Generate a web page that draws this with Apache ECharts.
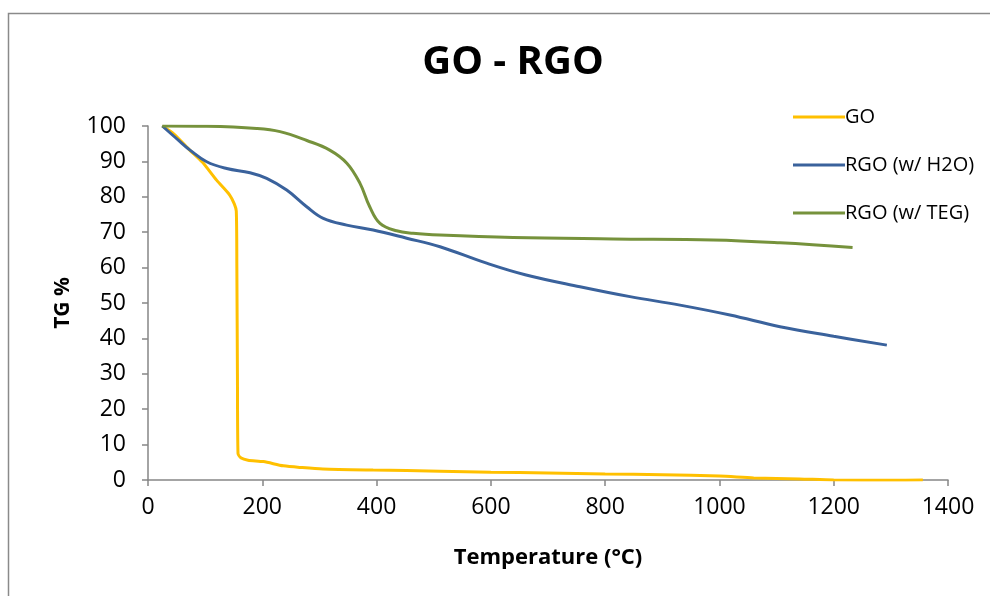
<!DOCTYPE html>
<html>
<head>
<meta charset="utf-8">
<script src="https://cdn.jsdelivr.net/npm/echarts@6/dist/echarts.min.js"></script>
<style>
  html, body { margin: 0; padding: 0; background: #fff; }
  #chart { width: 990px; height: 596px; }
</style>
</head>
<body>
<div id="chart"></div>
<script>
// Thermogravimetric curves: [temperature °C, TG %]
const seriesNames = ['GO', 'RGO (w/ H2O)', 'RGO (w/ TEG)'];

const goData = [
  [25, 100], [45, 97.8], [73, 93.2], [95, 89.8], [120, 84.7], [143, 80.5],
  [151, 78], [154.5, 76], [155.5, 60], [156.5, 30], [157.5, 7.5], [163, 6.2],
  [175, 5.6], [202, 5.2], [237, 4.0], [270, 3.5], [306, 3.1], [394, 2.8],
  [511, 2.5], [600, 2.2], [700, 2.0], [800, 1.7], [900, 1.5], [1000, 1.1],
  [1060, 0.6], [1140, 0.3], [1200, 0], [1300, -0.1], [1356, 0]
];

const rgoH2OData = [
  [25, 100], [56, 95.6], [73.5, 93.2], [102.7, 89.9], [137.7, 88], [178.5, 86.8],
  [207.7, 85.2], [242.7, 81.9], [277.7, 77.2], [306.8, 73.9], [347.7, 72.0],
  [394, 70.6], [452.7, 68.3], [511, 65.9], [590, 61.4], [660, 58], [756, 54.6],
  [843.5, 51.8], [931, 49.4], [1018.5, 46.6], [1106, 43.3], [1200, 40.6], [1293, 38.1]
];

const rgoTEGData = [
  [25, 100], [103, 99.9], [190, 99.3], [231, 98.4], [278, 95.9], [318, 93.2],
  [348, 89.5], [371, 83.8], [388, 77.2], [406, 72.5], [435, 70.4], [464, 69.7],
  [511, 69.2], [639, 68.5], [814, 68.1], [989, 67.8], [1106, 67.0], [1233, 65.7]
];

const xTicks = { min: 0, max: 1400, interval: 200 };
const yTicks = { min: 0, max: 100, interval: 10 };

const colors = ['#FFC000', '#3A629C', '#76923C'];
const axisGray = '#868686';
const font = '"Open Sans", "Liberation Sans", sans-serif';

const chart = echarts.init(document.getElementById('chart'), null, { renderer: 'canvas' });

function lineSeries(name, data, color, smooth) {
  return {
    name: name,
    type: 'line',
    data: data,
    showSymbol: false,
    symbol: 'none',
    smooth: smooth,
    lineStyle: { color: color, width: 3 },
    itemStyle: { color: color },
    animation: false
  };
}

// One legend block per entry so each row sits at its own height
const legendTops = [102, 150, 198];
const legends = seriesNames.map(function (name, i) {
  return {
    orient: 'vertical',
    left: 788,
    top: legendTops[i],
    itemWidth: 52,
    itemHeight: 3,
    icon: 'rect',
    data: [name],
    textStyle: { fontFamily: font, fontSize: 20, color: '#000', lineHeight: 20, padding: [0, 0, 0, -5] }
  };
});

chart.setOption({
  animation: false,
  backgroundColor: '#ffffff',
  graphic: [{
    type: 'rect',
    shape: { x: 8.5, y: 13.5, width: 1000, height: 600 },
    style: { fill: 'none', stroke: '#8a8a8a', lineWidth: 1.5 },
    silent: true
  }],
  title: {
    text: 'GO - RGO',
    left: 508,
    top: 38,
    textAlign: 'center',
    textStyle: { fontFamily: font, fontSize: 40, fontWeight: 'bold', color: '#000' }
  },
  legend: legends,
  grid: { left: 148, right: 42, top: 126, bottom: 116, containLabel: false },
  xAxis: {
    type: 'value',
    min: xTicks.min,
    max: xTicks.max,
    interval: xTicks.interval,
    name: 'Temperature (\u00B0C)',
    nameLocation: 'middle',
    nameGap: 67,
    nameTextStyle: { fontFamily: font, fontSize: 22, fontWeight: 'bold', color: '#000' },
    axisLine: { show: true, lineStyle: { color: axisGray, width: 1.5 } },
    axisTick: { show: true, inside: false, length: 6, lineStyle: { color: axisGray, width: 1.5 } },
    axisLabel: { fontFamily: font, fontSize: 23, color: '#000', margin: 16, formatter: function (v) { return String(v); } },
    splitLine: { show: false }
  },
  yAxis: {
    type: 'value',
    min: yTicks.min,
    max: yTicks.max,
    interval: yTicks.interval,
    name: 'TG %',
    nameLocation: 'middle',
    nameGap: 74,
    nameRotate: 90,
    nameTextStyle: { fontFamily: font, fontSize: 21, fontWeight: 'bold', color: '#000' },
    axisLine: { show: true, lineStyle: { color: axisGray, width: 1.5 } },
    axisTick: { show: true, inside: false, length: 6, lineStyle: { color: axisGray, width: 1.5 } },
    axisLabel: { fontFamily: font, fontSize: 23, color: '#000', margin: 22, formatter: function (v) { return String(v); } },
    splitLine: { show: false }
  },
  series: [
    lineSeries(seriesNames[0], goData, colors[0], 0.25),
    lineSeries(seriesNames[1], rgoH2OData, colors[1], 0.4),
    lineSeries(seriesNames[2], rgoTEGData, colors[2], 0.4)
  ]
});
</script>
</body>
</html>
